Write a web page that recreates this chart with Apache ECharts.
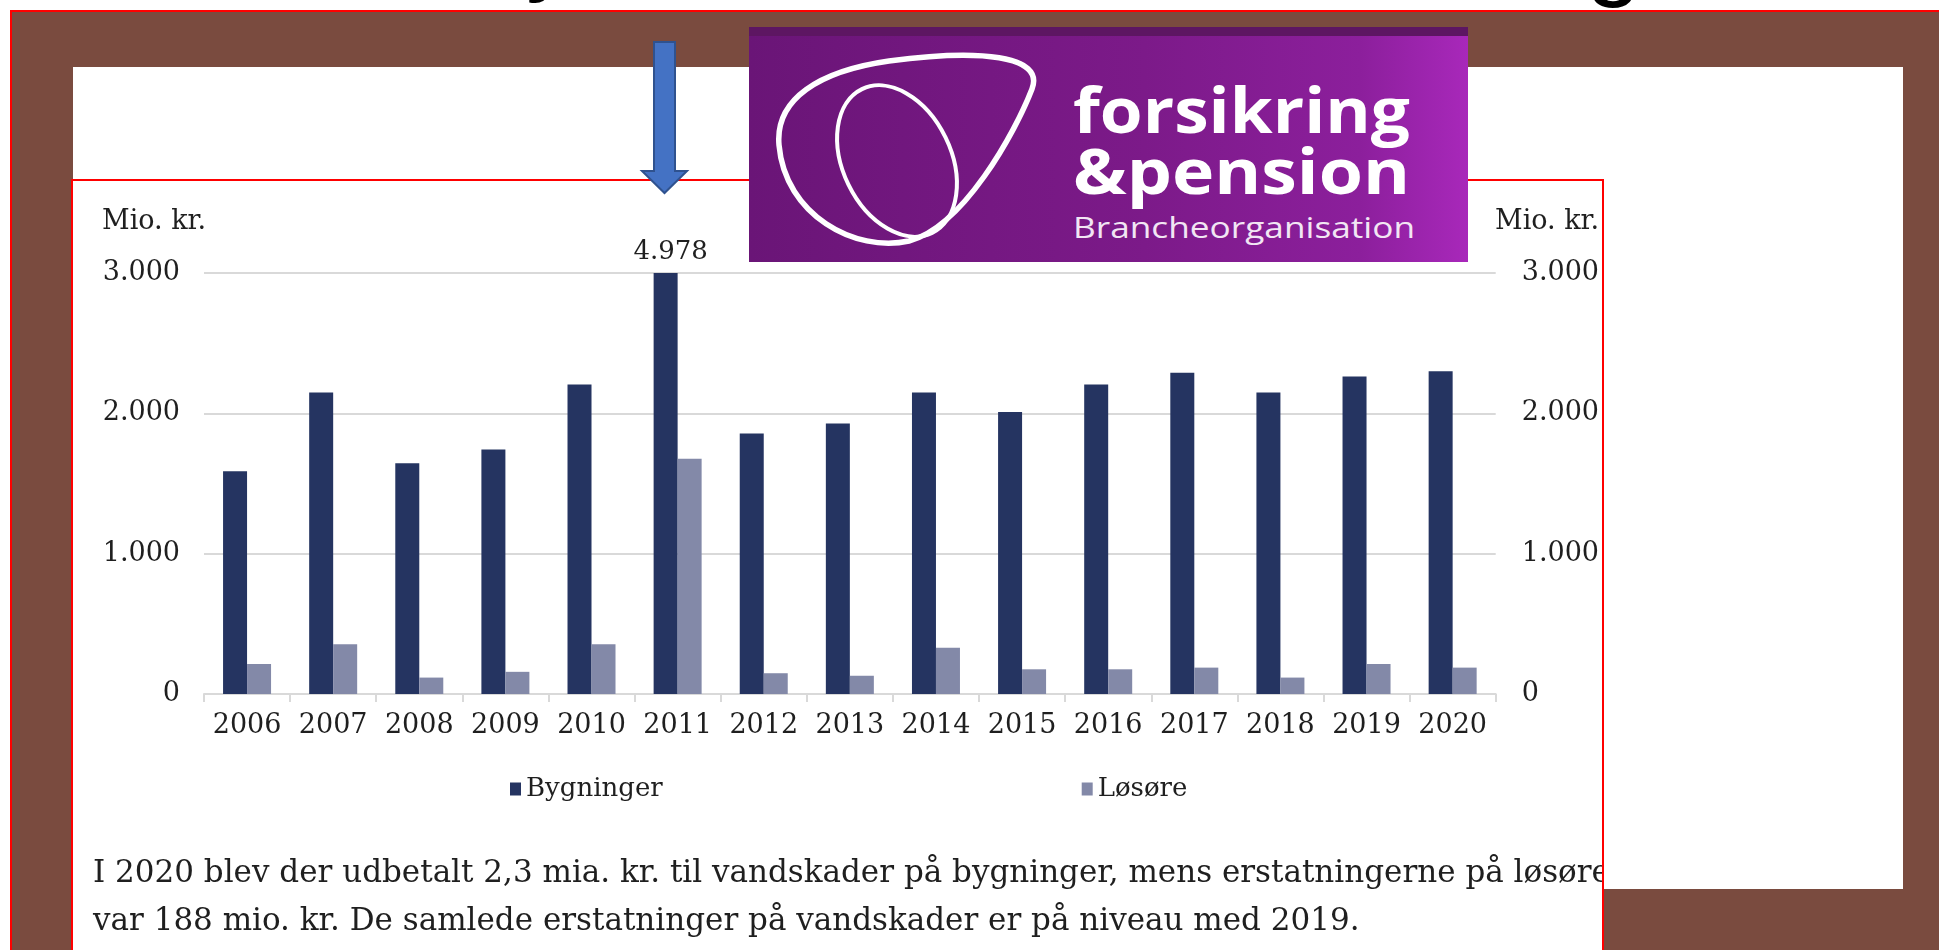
<!DOCTYPE html>
<html>
<head>
<meta charset="utf-8">
<script src="https://cdn.jsdelivr.net/npm/echarts@6/dist/echarts.min.js"></script>
<style>
html,body{margin:0;padding:0;width:1939px;height:950px;overflow:hidden;background:#ffffff;}
#titlefrag{position:absolute;left:0;top:0;}
#frame{position:absolute;left:10px;top:10px;width:1940px;height:950px;background:#7a4b3f;border-top:2px solid #ff0000;border-left:2px solid #ff0000;box-sizing:border-box;}
#panel{position:absolute;left:73px;top:67px;width:1830px;height:822px;background:#ffffff;}
#box{position:absolute;left:71px;top:179px;width:1533px;height:790px;border:2px solid #ff0000;box-sizing:border-box;background:#ffffff;overflow:hidden;}
#chart{position:absolute;left:0;top:0;width:1529px;height:786px;}
#logo{position:absolute;left:749px;top:27px;}
#arrow{position:absolute;left:0;top:0;}
</style>
</head>
<body>
<svg id="titlefrag" width="1939" height="12">
  <text x="526" y="-18" font-family="Liberation Sans" font-size="100" fill="#000">y</text>
  <text x="1586" y="-13" font-family="Liberation Sans" font-size="100" fill="#000">g</text>
</svg>
<div id="frame"></div>
<div id="panel"></div>
<div id="box"><div id="chart"></div></div>
<svg id="logo" width="719" height="235">
  <defs>
    <linearGradient id="lg" x1="0" y1="0" x2="1" y2="0">
      <stop offset="0" stop-color="#6a1577"/>
      <stop offset="0.55" stop-color="#7c1a89"/>
      <stop offset="0.85" stop-color="#8c1f9c"/>
      <stop offset="1" stop-color="#a828ba"/>
    </linearGradient>
  </defs>
  <rect x="0" y="0" width="719" height="235" fill="url(#lg)"/>
  <rect x="0" y="0" width="719" height="9" fill="#5d1662"/>
  <path d="M 140 34 C 230 22, 296 28, 283 62 C 266 106, 214 200, 160 214 C 106 226, 36 188, 30 118 C 26 72, 70 44, 140 34 Z" fill="none" stroke="#ffffff" stroke-width="5.5"/>
  <ellipse cx="148" cy="134" rx="80" ry="54" transform="rotate(64 148 134)" fill="none" stroke="#ffffff" stroke-width="4"/>
  <text x="324" y="106" font-family="Open Sans" font-weight="700" font-size="63" fill="#ffffff" textLength="337" lengthAdjust="spacingAndGlyphs">forsikring</text>
  <text x="324" y="167" font-family="Open Sans" font-weight="700" font-size="63" fill="#ffffff" textLength="337" lengthAdjust="spacingAndGlyphs">&amp;pension</text>
  <text x="324" y="211" font-family="Open Sans" font-weight="400" font-size="30" fill="#f2e6f4" textLength="342" lengthAdjust="spacingAndGlyphs">Brancheorganisation</text>
</svg>
<svg id="arrow" width="1939" height="260" style="pointer-events:none">
  <polygon points="654,42 675,42 675,171 687,171 664.5,193 642,171 654,171" fill="#4472c4" stroke="#2f528f" stroke-width="2"/>
</svg>
<script>
// ---- data ----
const years = ['2006','2007','2008','2009','2010','2011','2012','2013','2014','2015','2016','2017','2018','2019','2020'];
const bygninger = [1587, 2149, 1645, 1742, 2205, 4978, 1857, 1928, 2149, 2010, 2205, 2290, 2149, 2262, 2300];
const losore = [214, 354, 117, 158, 354, 1676, 148, 130, 329, 176, 176, 188, 117, 214, 188];
const seriesNames = ['Bygninger', 'Løsøre'];
const yMin = 0, yMax = 3000, yStep = 1000;
const unitLabel = 'Mio. kr.';
const captionLines = [
  'I 2020 blev der udbetalt 2,3 mia. kr. til vandskader på bygninger, mens erstatningerne på løsøre',
  'var 188 mio. kr. De samlede erstatninger på vandskader er på niveau med 2019.'
];

function fmt(v){ return String(v).replace(/\B(?=(\d{3})+(?!\d))/g, '.'); }

const FONT = 'DejaVu Serif';
const TXT = '#1f1f1f';
const chart = echarts.init(document.getElementById('chart'), null, {renderer:'canvas'});
const labelStyle = {color: TXT, fontFamily: FONT, fontSize: 27};

chart.setOption({
  animation: false,
  backgroundColor: '#ffffff',
  grid: {left: 131, right: 104, top: 92, bottom: 273, containLabel: false},
  legend: {
    data: seriesNames, left: 432, top: 590, icon: 'rect', itemWidth: 11, itemHeight: 13,
    itemGap: 419, textStyle: {color: TXT, fontFamily: FONT, fontSize: 26}
  },
  xAxis: {
    type: 'category', data: years,
    axisLine: {lineStyle: {color: '#d9d9d9', width: 2}},
    axisTick: {show: true, length: 8, lineStyle: {color: '#d9d9d9', width: 2}},
    axisLabel: Object.assign({margin: 18, interval: 0, hideOverlap: false}, labelStyle)
  },
  yAxis: [
    {type: 'value', min: yMin, max: yMax, interval: yStep, position: 'left',
     axisLine: {show: false}, axisTick: {show: false},
     splitLine: {lineStyle: {color: '#d9d9d9', width: 2}},
     axisLabel: Object.assign({margin: 24, formatter: fmt}, labelStyle)},
    {type: 'value', min: yMin, max: yMax, interval: yStep, position: 'right',
     axisLine: {show: false}, axisTick: {show: false}, splitLine: {show: false},
     axisLabel: Object.assign({margin: 26, formatter: fmt}, labelStyle)}
  ],
  series: [
    {name: seriesNames[0], type: 'bar', barWidth: 24, barGap: '0%', yAxisIndex: 0,
     itemStyle: {color: '#253461'},
     data: bygninger.map(v => v > yMax ? {value: v, label: {show: true, position: 'top', distance: 8, offset: [5, 0],
        formatter: p => fmt(p.value), color: TXT, fontFamily: FONT, fontSize: 26}} : v)},
    {name: seriesNames[1], type: 'bar', barWidth: 24, yAxisIndex: 0,
     itemStyle: {color: '#8389a8'}, data: losore}
  ],
  graphic: [
    {type: 'text', left: 29, top: 27, style: {text: unitLabel, fill: TXT, font: '27px "DejaVu Serif"'}},
    {type: 'text', left: 1422, top: 27, style: {text: unitLabel, fill: TXT, font: '27px "DejaVu Serif"'}},
    {type: 'text', left: 20, top: 677, style: {text: captionLines[0], fill: TXT, font: '31px "DejaVu Serif"'}},
    {type: 'text', left: 20, top: 725, style: {text: captionLines[1], fill: TXT, font: '31px "DejaVu Serif"'}}
  ]
});
</script>
</body>
</html>
